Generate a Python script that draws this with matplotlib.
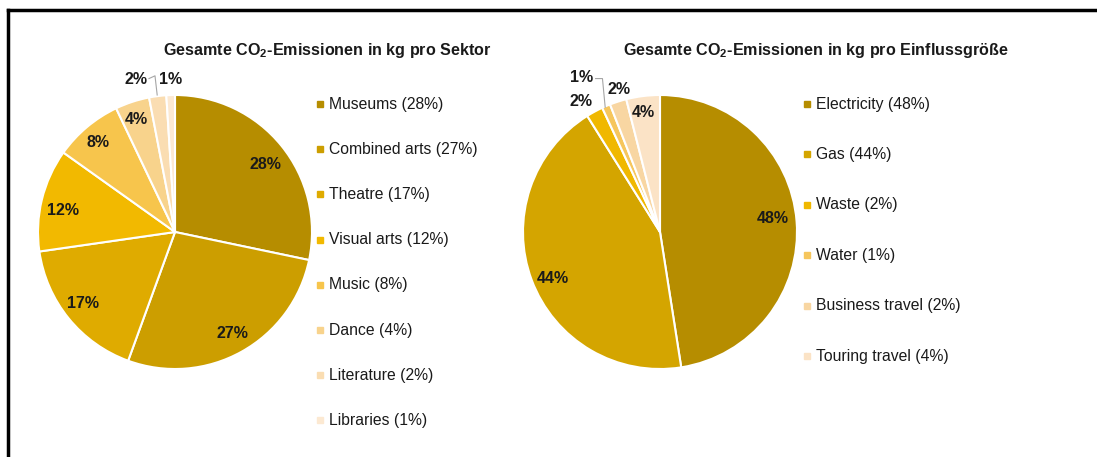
import matplotlib
matplotlib.use("Agg")
import matplotlib.pyplot as plt
from matplotlib.lines import Line2D
import numpy as np

plt.rcParams['font.family'] = ['Liberation Sans', 'DejaVu Sans']
plt.rcParams['mathtext.fontset'] = 'custom'
plt.rcParams['mathtext.rm'] = 'Liberation Sans'
plt.rcParams['mathtext.bf'] = 'Liberation Sans:bold'

# ---- data ----
sector_labels = ["Museums", "Combined arts", "Theatre", "Visual arts", "Music",
                 "Dance", "Literature", "Libraries"]
sector_values = [28, 27, 17, 12, 8, 4, 2, 1]
sector_colors = ["#B68D00", "#CC9E00", "#DFAB00", "#F2B900", "#F7C54C",
                 "#F8D38C", "#FADDB2", "#FCE9D2"]

factor_labels = ["Electricity", "Gas", "Waste", "Water", "Business travel",
                 "Touring travel"]
factor_values = [48, 44, 2, 1, 2, 4]
factor_colors = ["#B68D00", "#D4A500", "#F0B800", "#F6C65C", "#F8D6A2",
                 "#FBE3C6"]

title1 = r"Gesamte $\mathbf{CO_2}$-Emissionen in kg pro Sektor"
title2 = r"Gesamte $\mathbf{CO_2}$-Emissionen in kg pro Einflussgröße"

W, H = 1097, 457
fig = plt.figure(figsize=(W / 100, H / 100), dpi=100)
fig.patch.set_facecolor("white")

# border (left and top visible)
fig.add_artist(Line2D([8 / W, 8 / W], [0, 1 - 10 / H], color="black", lw=2.5,
                      transform=fig.transFigure))
fig.add_artist(Line2D([8 / W, 1], [1 - 10 / H, 1 - 10 / H], color="black", lw=2.5,
                      transform=fig.transFigure))


def pie_axes(cx, cy, r):
    ax = fig.add_axes([(cx - r) / W, 1 - (cy + r) / H, 2 * r / W, 2 * r / H])
    return ax


def draw(ax, values, colors, label_pos, leaders):
    wedges, _ = ax.pie(values, colors=colors, startangle=90, counterclock=False,
                       radius=1, wedgeprops=dict(edgecolor="white", linewidth=1.5))
    ax.set_xlim(-1, 1)
    ax.set_ylim(-1, 1)
    ax.set_aspect("equal")
    ax.axis("off")
    total = sum(values)
    for v, (x, y) in zip(values, label_pos):
        ax.text(x, y, f"{round(v / total * 100)}%", ha="center", va="center",
                fontsize=11.5, fontweight="bold", color="#1a1a1a", clip_on=False)
    for pts in leaders:
        xs, ys = zip(*pts)
        ax.plot(xs, ys, color="#A6A6A6", lw=0.8, clip_on=False)
    return wedges


def legend(x, y0, dy, labels, values, colors):
    for i, (lab, v, c) in enumerate(zip(labels, values, colors)):
        y = y0 + i * dy
        fig.add_artist(Line2D([(x + 2) / W], [1 - y / H], marker="s", markersize=4.5,
                              color=c, linestyle="none", transform=fig.transFigure))
        fig.text((x + 11) / W, 1 - y / H, f"{lab} ({v}%)", fontsize=11.3,
                 ha="left", va="center", color="#1a1a1a")


# layout: label positions in pie units
pos1 = [(0.66, 0.49), (0.42, -0.74), (-0.67, -0.52), (-0.82, 0.16),
        (-0.56, 0.65), (-0.28, 0.82), (-0.285, 1.11), (-0.03, 1.11)]
lead1 = [[(-0.19, 1.12), (-0.146, 1.14), (-0.13, 1.0)]]
pos2 = [(0.82, 0.10), (-0.78, -0.34), (-0.58, 0.95), (-0.57, 1.13),
        (-0.30, 1.04), (-0.125, 0.87)]
lead2 = [[(-0.47, 1.12), (-0.42, 1.12), (-0.40, 0.91)]]

ax1 = pie_axes(175, 232, 137)
draw(ax1, sector_values, sector_colors, pos1, lead1)
ax2 = pie_axes(660, 232, 137)
draw(ax2, factor_values, factor_colors, pos2, lead2)

fig.text(327 / W, 1 - 50 / H, title1, fontsize=11.6, fontweight="bold",
         ha="center", va="center", color="#1a1a1a")
fig.text(816 / W, 1 - 50 / H, title2, fontsize=11.6, fontweight="bold",
         ha="center", va="center", color="#1a1a1a")

legend(318, 104, 45.2, sector_labels, sector_values, sector_colors)
legend(805, 104, 50.4, factor_labels, factor_values, factor_colors)

fig.savefig("out.png", dpi=100, facecolor="white")
